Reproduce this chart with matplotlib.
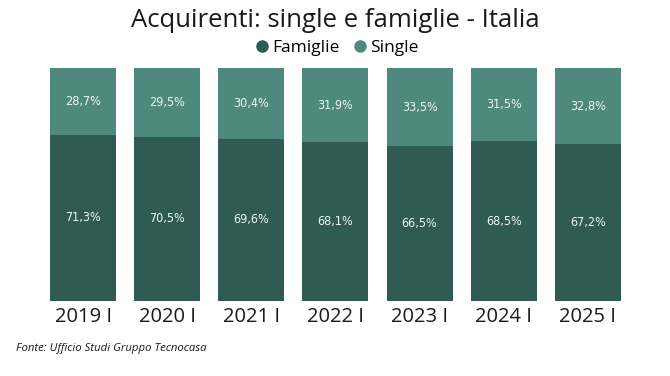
import matplotlib
matplotlib.use("Agg")
import matplotlib.pyplot as plt
from matplotlib.lines import Line2D

categories = ["2019 I", "2020 I", "2021 I", "2022 I", "2023 I", "2024 I", "2025 I"]
famiglie = [71.3, 70.5, 69.6, 68.1, 66.5, 68.5, 67.2]
single = [28.7, 29.5, 30.4, 31.9, 33.5, 31.5, 32.8]

c_fam = "#2f5b53"
c_sin = "#4e897e"

fig = plt.figure(figsize=(6.7, 3.76), dpi=100)
ax = fig.add_axes([0.0612, 0.1995, 0.879, 0.6197])
x = range(len(categories))
ax.bar(x, famiglie, width=0.785, color=c_fam)
ax.bar(x, single, bottom=famiglie, width=0.785, color=c_sin)

fmt = lambda v: f"{v:.1f}%".replace(".", ",")
for i in x:
    ax.text(i, famiglie[i] / 2, fmt(famiglie[i]), ha="center", va="center",
            color="#eef5f3", fontsize=9, fontstretch="condensed",
            family=["DejaVu Sans"])
    ax.text(i, famiglie[i] + single[i] / 2, fmt(single[i]), ha="center", va="center",
            color="#eef5f3", fontsize=9, fontstretch="condensed",
            family=["DejaVu Sans"])

ax.set_xlim(-0.5, len(categories) - 0.5)
ax.set_ylim(0, 100)
ax.set_xticks(list(x))
ax.set_xticklabels(categories, fontsize=14.5, family=["Open Sans"], color="#1a1a1a")
ax.tick_params(axis="x", length=0, pad=4)
ax.set_yticks([])
for s in ax.spines.values():
    s.set_visible(False)

fig.text(0.5, 0.945, "Acquirenti: single e famiglie - Italia", ha="center", va="center",
         fontsize=18.5, family=["Open Sans"], color="#1a1a1a")

handles = [Line2D([], [], marker="o", linestyle="", markersize=8, color=c_fam),
           Line2D([], [], marker="o", linestyle="", markersize=8, color=c_sin)]
fig.legend(handles, ["Famiglie", "Single"], loc="center", bbox_to_anchor=(0.5, 0.872),
           ncol=2, frameon=False, prop={"family": "Open Sans", "size": 12.5},
           handletextpad=0.0, columnspacing=0.6, handlelength=1.2)

fig.text(0.024, 0.074, "Fonte: Ufficio Studi Gruppo Tecnocasa", ha="left", va="center",
         fontsize=8.2, style="italic", family=["Open Sans"], color="#1a1a1a")

fig.savefig("out.png", dpi=100)
